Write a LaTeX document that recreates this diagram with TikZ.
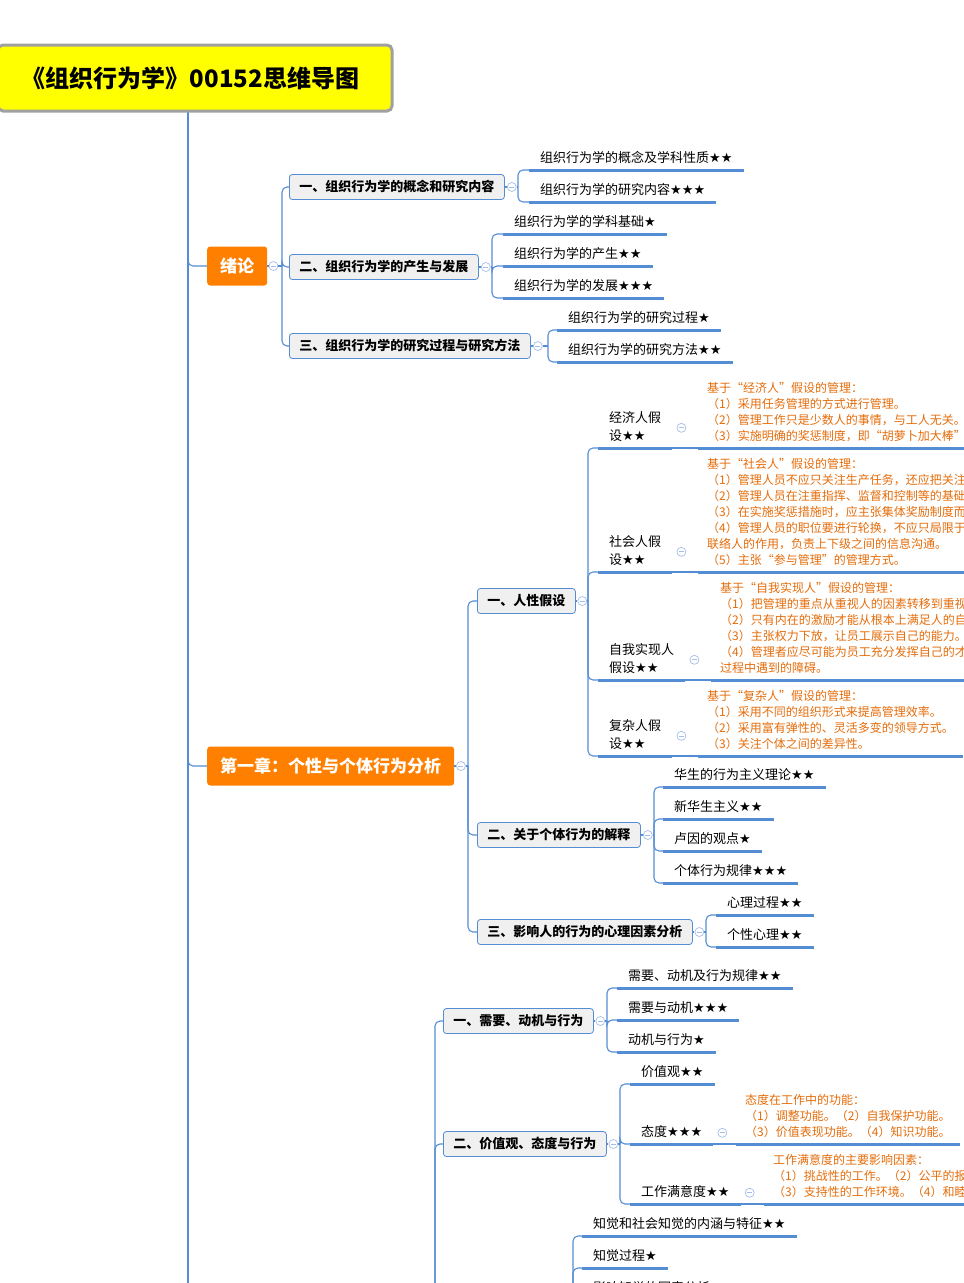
\documentclass[tikz,border=0pt]{standalone}
\usepackage{fontspec}
\setmainfont{Noto Sans CJK SC}
\newfontfamily\symf{DejaVu Sans}
\newcommand{\stars}[1]{{\symf #1}}
\usetikzlibrary{calc}
\definecolor{xblue}{RGB}{84,141,212}
\definecolor{xcirc}{RGB}{165,190,232}
\definecolor{xorange}{RGB}{255,128,0}
\definecolor{xnote}{RGB}{228,108,10}
\definecolor{xbox}{RGB}{240,240,240}
\definecolor{xgray}{RGB}{160,160,160}
\definecolor{xyellow}{RGB}{255,255,0}
\begin{document}
\begin{tikzpicture}[x=1pt,y=-1pt,
  conn/.style={draw=xblue,line width=1.1pt},
  elbow/.style={conn,rounded corners=5pt},
  uline/.style={draw=xblue,line width=3pt},
  titlebox/.style={draw=xgray,line width=3pt,fill=xyellow,rounded corners=5pt,minimum width=394pt,minimum height=66pt,anchor=north west,font=\fontsize{24}{28}\selectfont\bfseries},
  chapbox/.style={fill=xorange,rounded corners=3pt,text=white,font=\fontsize{17}{20}\selectfont\bfseries,inner xsep=13pt,minimum height=39pt,anchor=west},
  secbox/.style={draw=xblue,line width=0.8pt,fill=xbox,rounded corners=3pt,font=\fontsize{13}{16}\selectfont\bfseries,inner xsep=10pt,minimum height=25pt,anchor=west},
  leaf/.style={anchor=south west,font=\fontsize{13}{18}\selectfont,inner xsep=11pt,inner ysep=4pt,text depth=3pt,align=left},
  note/.style={anchor=south west,font=\fontsize{12}{16}\selectfont,text=xnote,inner xsep=9pt,inner ysep=4pt,text depth=3pt,align=left},
  fold/.style={circle,draw=xcirc,line width=0.7pt,fill=white,minimum size=9pt,inner sep=0pt,path picture={\draw[xcirc,line width=0.7pt]([xshift=-2.5pt]path picture bounding box.center)--([xshift=2.5pt]path picture bounding box.center);}},
]
\useasboundingbox (0,0) rectangle (964,1283);
\clip (0,0) rectangle (964,1283);

% ---------- trunk ----------
\coordinate (tr) at (188,111);
\coordinate (trb) at (188,1300);
\draw[conn] (tr) -- (trb);

\node[chapbox] (ch0) at (207,266) {绪论};
\node[chapbox] (ch1) at (207,766) {第一章：个性与个体行为分析};
\draw[elbow] (tr) |- (ch0.west);
\draw[elbow] (tr) |- (ch1.west);

\node[titlebox] (title) at (-3.5,43.5) {《组织行为学》00152思维导图\hspace*{9pt}};

% ---------- 绪论 ----------
\node[fold] (f0) at ($(ch0.east)+(6,0)$) {};
\draw[conn] (ch0.east) -- (f0.west);
\coordinate (g0) at (282,266);
\draw[conn] (f0.east) -- (g0);
\node[secbox] (s1a) at (289,187) {一、组织行为学的概念和研究内容};
\node[secbox] (s1b) at (289,267) {二、组织行为学的产生与发展};
\node[secbox] (s1c) at (289,346) {三、组织行为学的研究过程与研究方法};
\foreach \c in {s1a,s1b,s1c} \draw[elbow] (g0) |- (\c.west);

% group 1
\node[fold] (f1) at ($(s1a.east)+(7,0)$) {};
\draw[conn] (s1a.east) -- (f1.west);
\coordinate (g1) at (518,187);
\draw[conn] (f1.east) -- (g1);
\node[leaf] (a1) at (529,170) {组织行为学的概念及学科性质\stars{★★}};
\node[leaf] (a2) at (529,202) {组织行为学的研究内容\stars{★★★}};
\foreach \c in {a1,a2} {\draw[elbow] (g1) |- (\c.south west); \draw[uline] (\c.south west) -- (\c.south east);}

% group 2
\node[fold] (f2) at ($(s1b.east)+(7,0)$) {};
\draw[conn] (s1b.east) -- (f2.west);
\coordinate (g2) at (492,267);
\draw[conn] (f2.east) -- (g2);
\node[leaf] (b1) at (503,234) {组织行为学的学科基础\stars{★}};
\node[leaf] (b2) at (503,266) {组织行为学的产生\stars{★★}};
\node[leaf] (b3) at (503,298) {组织行为学的发展\stars{★★★}};
\foreach \c in {b1,b2,b3} {\draw[elbow] (g2) |- (\c.south west); \draw[uline] (\c.south west) -- (\c.south east);}

% group 3
\node[fold] (f3) at ($(s1c.east)+(7,0)$) {};
\draw[conn] (s1c.east) -- (f3.west);
\coordinate (g3) at (548,346);
\draw[conn] (f3.east) -- (g3);
\node[leaf] (c1) at (557,330) {组织行为学的研究过程\stars{★}};
\node[leaf] (c2) at (557,362) {组织行为学的研究方法\stars{★★}};
\foreach \c in {c1,c2} {\draw[elbow] (g3) |- (\c.south west); \draw[uline] (\c.south west) -- (\c.south east);}

% ---------- 第一章 ----------
\node[fold] (fc1) at ($(ch1.east)+(6.5,0)$) {};
\draw[conn] (ch1.east) -- (fc1.west);
\coordinate (gc1) at (468,766);
\draw[conn] (fc1.east) -- (gc1);
\node[secbox] (s2a) at (477,601) {一、人性假设};
\node[secbox] (s2b) at (477,835) {二、关于个体行为的解释};
\node[secbox] (s2c) at (477,932) {三、影响人的行为的心理因素分析};
\foreach \c in {s2a,s2b,s2c} \draw[elbow] (gc1) |- (\c.west);

% 人性假设
\node[fold] (f4) at ($(s2a.east)+(6.5,0)$) {};
\draw[conn] (s2a.east) -- (f4.west);
\coordinate (g4) at (588,601);
\draw[conn] (f4.east) -- (g4);
\node[leaf] (d1) at (598,448) {经济人假\\设\stars{★★}};
\node[leaf] (d2) at (598,572) {社会人假\\设\stars{★★}};
\node[leaf] (d3) at (598,680) {自我实现人\\假设\stars{★★}};
\node[leaf] (d4) at (598,756) {复杂人假\\设\stars{★★}};
\foreach \c in {d1,d2,d3,d4} {\draw[elbow] (g4) |- (\c.south west); \draw[uline] (\c.south west) -- (\c.south east);}

\node[note] (n1) at (698,448) {基于“经济人”假设的管理：\\（1）采用任务管理的方式进行管理。\\（2）管理工作只是少数人的事情，与工人无关。\\（3）实施明确的奖惩制度，即“胡萝卜加大棒”政策。};
\node[note] (n2) at (698,572) {基于“社会人”假设的管理：\\（1）管理人员不应只关注生产任务，还应把关注的重点放在关心人、满足人的需要上。\\（2）管理人员在注重指挥、监督和控制等的基础上，更应重视职工之间的关系。\\（3）在实施奖惩措施时，应主张集体奖励制度而不主张个人奖励制度。\\（4）管理人员的职位要进行轮换，不应只局限于制定计划、组织工序，还应起到\\联络人的作用，负责上下级之间的信息沟通。\\（5）主张“参与管理”的管理方式。};
\node[note] (n3) at (711,680) {基于“自我实现人”假设的管理：\\（1）把管理的重点从重视人的因素转移到重视工作环境上。\\（2）只有内在的激励才能从根本上满足人的自我实现需要。\\（3）主张权力下放，让员工展示自己的能力。\\（4）管理者应尽可能为员工充分发挥自己的才能创造条件，减少员工在自我实现\\过程中遇到的障碍。};
\node[note] (n4) at (698,756) {基于“复杂人”假设的管理：\\（1）采用不同的组织形式来提高管理效率。\\（2）采用富有弹性的、灵活多变的领导方式。\\（3）关注个体之间的差异性。};
\foreach \l/\n in {d1/n1,d2/n2,d3/n3,d4/n4} {
  \node[fold] at ($(\l.east)+(9,0)$) {};
  \draw[conn] (\l.south east) -- (\n.south west);
  \draw[uline] (\n.south west) -- (\n.south east);
}

% 关于个体行为的解释
\node[fold] (f5) at ($(s2b.east)+(7,0)$) {};
\draw[conn] (s2b.east) -- (f5.west);
\coordinate (g5) at (654,835);
\draw[conn] (f5.east) -- (g5);
\node[leaf] (e1) at (663,787) {华生的行为主义理论\stars{★★}};
\node[leaf] (e2) at (663,819) {新华生主义\stars{★★}};
\node[leaf] (e3) at (663,851) {卢因的观点\stars{★}};
\node[leaf] (e4) at (663,883) {个体行为规律\stars{★★★}};
\foreach \c in {e1,e2,e3,e4} {\draw[elbow] (g5) |- (\c.south west); \draw[uline] (\c.south west) -- (\c.south east);}

% 心理因素
\node[fold] (f6) at ($(s2c.east)+(6.5,0)$) {};
\draw[conn] (s2c.east) -- (f6.west);
\coordinate (g6) at (706,932);
\draw[conn] (f6.east) -- (g6);
\node[leaf] (h1) at (716,915) {心理过程\stars{★★}};
\node[leaf] (h2) at (716,947) {个性心理\stars{★★}};
\foreach \c in {h1,h2} {\draw[elbow] (g6) |- (\c.south west); \draw[uline] (\c.south west) -- (\c.south east);}

% ---------- 第二章 (parent below the page) ----------
\coordinate (g7) at (435,1310);
\node[secbox] (s3a) at (443,1021) {一、需要、动机与行为};
\node[secbox] (s3b) at (443,1144) {二、价值观、态度与行为};
\foreach \c in {s3a,s3b} \draw[elbow] (g7) |- (\c.west);

\node[fold] (f8) at ($(s3a.east)+(6.5,0)$) {};
\draw[conn] (s3a.east) -- (f8.west);
\coordinate (g8) at (607,1021);
\draw[conn] (f8.east) -- (g8);
\node[leaf] (k1) at (617,988) {需要、动机及行为规律\stars{★★}};
\node[leaf] (k2) at (617,1020) {需要与动机\stars{★★★}};
\node[leaf] (k3) at (617,1052) {动机与行为\stars{★}};
\foreach \c in {k1,k2,k3} {\draw[elbow] (g8) |- (\c.south west); \draw[uline] (\c.south west) -- (\c.south east);}

\node[fold] (f9) at ($(s3b.east)+(6.5,0)$) {};
\draw[conn] (s3b.east) -- (f9.west);
\coordinate (g9) at (620,1144);
\draw[conn] (f9.east) -- (g9);
\node[leaf] (m1) at (630,1084) {价值观\stars{★★}};
\node[leaf] (m2) at (630,1144) {态度\stars{★★★}};
\node[leaf] (m3) at (630,1204) {工作满意度\stars{★★}};
\foreach \c in {m1,m2,m3} {\draw[elbow] (g9) |- (\c.south west); \draw[uline] (\c.south west) -- (\c.south east);}
\node[note] (n5) at (736,1144) {态度在工作中的功能：\\（1）调整功能。（2）自我保护功能。\\（3）价值表现功能。（4）知识功能。};
\node[note] (n6) at (764,1204) {工作满意度的主要影响因素：\\（1）挑战性的工作。（2）公平的报酬。\\（3）支持性的工作环境。（4）和睦的同事关系。};
\foreach \l/\n in {m2/n5,m3/n6} {
  \node[fold] at ($(\l.east)+(9,0)$) {};
  \draw[conn] (\l.south east) -- (\n.south west);
  \draw[uline] (\n.south west) -- (\n.south east);
}

% 知觉 group (parent below the page)
\coordinate (g10) at (573,1330);
\node[leaf] (p1) at (582,1236) {知觉和社会知觉的内涵与特征\stars{★★}};
\node[leaf] (p2) at (582,1268) {知觉过程\stars{★}};
\node[leaf] (p3) at (582,1300) {影响知觉的因素分析};
\foreach \c in {p1,p2,p3} {\draw[elbow] (g10) |- (\c.south west); \draw[uline] (\c.south west) -- (\c.south east);}
\end{tikzpicture}
\end{document}
